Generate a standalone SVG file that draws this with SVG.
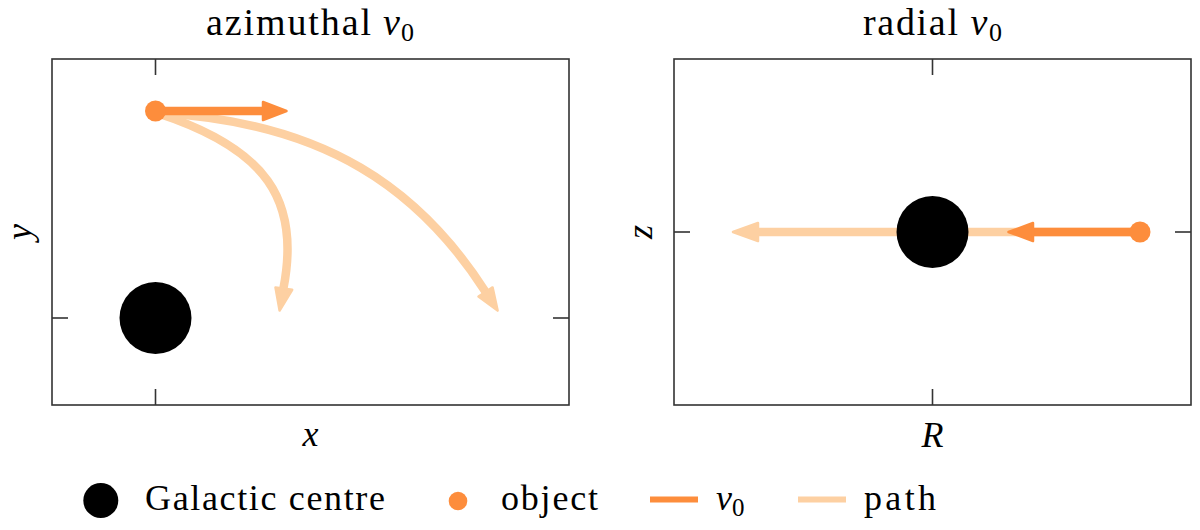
<svg xmlns="http://www.w3.org/2000/svg" width="1200" height="530" viewBox="0 0 1200 530" font-family="'Liberation Serif', 'DejaVu Serif', serif">
<style>
text{font-family:'Liberation Serif','DejaVu Serif',serif;fill:#000}
.t{font-size:38px}
.l{font-size:36px}
.sub{font-size:26px}
.lsub{font-size:25px}
.m{font-style:italic}
.frame{fill:none;stroke:#333;stroke-width:1.6}
.tick{stroke:#333;stroke-width:1.6}
.path{fill:none;stroke:#fdd0a2;stroke-width:8.5}
.pathhead{fill:#fdd0a2;stroke:#fdd0a2;stroke-width:2.5;stroke-linejoin:round}
.v0{fill:none;stroke:#fd8d3c;stroke-width:8.5}
.v0head{fill:#fd8d3c;stroke:#fd8d3c;stroke-width:2.5;stroke-linejoin:round}
.obj{fill:#fd8d3c}
.gc{fill:#000}
</style>
<rect x="0" y="0" width="1200" height="530" fill="#fff"/>

<g id="panel-azimuthal">
  <rect class="frame" x="52" y="59" width="517" height="346"/>
  <line class="tick" x1="155.5" y1="59" x2="155.5" y2="75"/>
  <line class="tick" x1="155.5" y1="389" x2="155.5" y2="405"/>
  <line class="tick" x1="52" y1="318" x2="68" y2="318"/>
  <line class="tick" x1="553" y1="318" x2="569" y2="318"/>
  <text class="t" x="206" y="35" textLength="165" lengthAdjust="spacing">azimuthal</text>
  <text class="t m" x="383" y="35">v</text>
  <text class="sub" x="401" y="41">0</text>
  <text class="l m" x="310.5" y="446" text-anchor="middle">x</text>
  <text class="l m" x="31" y="232" text-anchor="middle" transform="rotate(-90 31 232)">y</text>
</g>

<g id="panel-radial">
  <rect class="frame" x="674" y="59" width="517" height="346"/>
  <line class="tick" x1="932.5" y1="59" x2="932.5" y2="75"/>
  <line class="tick" x1="932.5" y1="389" x2="932.5" y2="405"/>
  <line class="tick" x1="674" y1="232" x2="690" y2="232"/>
  <line class="tick" x1="1175" y1="232" x2="1191" y2="232"/>
  <text class="t" x="863" y="35" textLength="95" lengthAdjust="spacing">radial</text>
  <text class="t m" x="970.5" y="35">v</text>
  <text class="sub" x="989" y="41">0</text>
  <text class="l m" x="932.5" y="446.5" text-anchor="middle">R</text>
  <text class="l m" x="652" y="232" text-anchor="middle" transform="rotate(-90 652 232)">z</text>
</g>

<g id="galactic-centre-left">
  <circle class="gc" cx="155.5" cy="318" r="36"/>
</g>

<g id="connectors">
  <path class="path" d="M157,113 C266.4,148.5 300.6,199.8 283.5,288"/>
  <polygon class="pathhead" points="275.5,287.5 279.6,310.5 292.2,289.8"/>
  <path class="path" d="M157,113 C327,121.5 420.7,190.9 485.5,291.7"/>
  <polygon class="pathhead" points="478.5,296.5 497.6,310.6 492.6,287.4"/>
  <line class="v0" x1="155.5" y1="111" x2="264" y2="111"/>
  <polygon class="v0head" points="263,102 286.5,111 263,120"/>
  <line class="path" x1="1138" y1="232" x2="758" y2="232"/>
  <polygon class="pathhead" points="758,223 733,232 758,241"/>
</g>

<g id="galactic-centre-right">
  <circle class="gc" cx="932.5" cy="232" r="36"/>
</g>

<g id="v0-right">
  <line class="v0" x1="1140" y1="232" x2="1032" y2="232"/>
  <polygon class="v0head" points="1033,223 1008.5,232 1033,241"/>
</g>

<g id="object-left">
  <circle class="obj" cx="155.5" cy="111" r="10.5"/>
</g>
<g id="object-right">
  <circle class="obj" cx="1140" cy="232" r="10.5"/>
</g>

<g id="legend">
  <circle class="gc" cx="100.8" cy="500.5" r="17.5"/>
  <text class="l" x="145" y="510" textLength="240" lengthAdjust="spacing">Galactic centre</text>
  <circle class="obj" cx="458" cy="501" r="9.3"/>
  <text class="l" x="501" y="510" textLength="97" lengthAdjust="spacing">object</text>
  <line x1="650" y1="499.5" x2="698" y2="499.5" stroke="#fd8d3c" stroke-width="6"/>
  <text class="l m" x="716" y="510">v</text>
  <text class="lsub" x="732" y="516">0</text>
  <line x1="798" y1="499.5" x2="846" y2="499.5" stroke="#fdd0a2" stroke-width="6"/>
  <text class="l" x="864" y="510" textLength="72" lengthAdjust="spacing">path</text>
</g>
</svg>
